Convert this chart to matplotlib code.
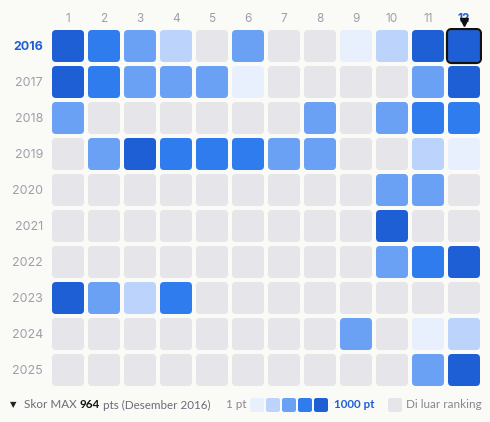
import matplotlib
matplotlib.use("Agg")
import matplotlib.pyplot as plt
from matplotlib.patches import FancyBboxPatch

# ---- data (level 0 = outside ranking, 1..5 = score bin from 1 pt to 1000 pt)
months = [str(m) for m in range(1, 13)]
years = ["2016", "2017", "2018", "2019", "2020", "2021", "2022", "2023", "2024", "2025"]
y2016 = [5, 4, 3, 2, 0, 3, 0, 0, 1, 2, 5, 5]
y2017 = [5, 4, 3, 3, 3, 1, 0, 0, 0, 0, 3, 5]
y2018 = [3, 0, 0, 0, 0, 0, 0, 3, 0, 3, 4, 4]
y2019 = [0, 3, 5, 4, 4, 4, 3, 3, 0, 0, 2, 1]
y2020 = [0, 0, 0, 0, 0, 0, 0, 0, 0, 3, 3, 0]
y2021 = [0, 0, 0, 0, 0, 0, 0, 0, 0, 5, 0, 0]
y2022 = [0, 0, 0, 0, 0, 0, 0, 0, 0, 3, 4, 5]
y2023 = [5, 3, 2, 4, 0, 0, 0, 0, 0, 0, 0, 0]
y2024 = [0, 0, 0, 0, 0, 0, 0, 0, 3, 0, 1, 2]
y2025 = [0, 0, 0, 0, 0, 0, 0, 0, 0, 0, 3, 5]
levels = [y2016, y2017, y2018, y2019, y2020, y2021, y2022, y2023, y2024, y2025]
max_year, max_month, max_score = "2016", "12", 964

BG = "#fafaf7"
GREY = "#e6e6ea"
PALETTE = [GREY, "#e8f0fe", "#bcd3fc", "#6aa1f4", "#2f7cee", "#1f5fd6"]
LABEL = "#a29dab"
BLUE = "#1f5fd6"

W, H = 490, 422
fig = plt.figure(figsize=(W / 100, H / 100), dpi=100, facecolor=BG)
ax = fig.add_axes([50 / W, 34 / H, 432 / W, 360 / H])
ax.set_facecolor(BG)
ax.set_xlim(0.5, 12.5)
ax.set_ylim(len(years) - 0.5, -0.5)
for s in ax.spines.values():
    s.set_visible(False)

cell = 32 / 36
r = 4 / 36
for yi, row in enumerate(levels):
    for mi, lv in enumerate(row):
        x = mi + 1
        ax.add_patch(FancyBboxPatch((x - cell / 2, yi - cell / 2), cell, cell,
                                    boxstyle=f"round,pad=0,rounding_size={r}",
                                    facecolor=PALETTE[lv], edgecolor="none"))

# highlight max
hx = months.index(max_month) + 1
hy = years.index(max_year)
hs = 34 / 36
ax.add_patch(FancyBboxPatch((hx - hs / 2, hy - hs / 2), hs, hs,
                            boxstyle=f"round,pad=0,rounding_size={5/36}",
                            facecolor="none", edgecolor="#111111", linewidth=1.6,
                            zorder=5))
ax.plot([hx], [hy - 0.66], marker="v", color="#111111", markersize=6,
        clip_on=False, zorder=6)

ax.xaxis.tick_top()
ax.set_xticks(range(1, 13))
ax.set_xticklabels(months, fontfamily="Inter", fontsize=8.5, color=LABEL)
ax.set_yticks(range(len(years)))
ax.set_yticklabels(years, fontfamily="Inter", fontsize=9, color=LABEL)
ax.tick_params(axis="x", length=0, pad=2.5)
ax.tick_params(axis="y", length=0, pad=5)
for t in ax.get_xticklabels():
    if t.get_text() == max_month:
        t.set_color(BLUE); t.set_fontweight("bold")
for t in ax.get_yticklabels():
    if t.get_text() == max_year:
        t.set_color(BLUE); t.set_fontweight("bold")

# ---- legend row (figure pixel coordinates)
def px(x, y):
    return x / W, 1 - y / H

ly = 405
FS = 8.4
fig.text(*px(13, ly), "▼", fontsize=6, color="#222222", ha="center", va="center",
         fontfamily="DejaVu Sans")
t1 = fig.text(*px(24, ly), "Skor MAX ", fontsize=FS, color="#6e6a78", va="center",
              fontfamily="Lato")
fig.canvas.draw()
rend = fig.canvas.get_renderer()
bb = t1.get_window_extent(rend)
t2 = fig.text(bb.x1 / W, 1 - ly / H, f"{max_score}", fontsize=FS, color="#111111",
              fontweight="bold", va="center", fontfamily="Lato")
bb2 = t2.get_window_extent(rend)
fig.text(bb2.x1 / W, 1 - ly / H, " pts (Desember 2016)", fontsize=FS, color="#6e6a78",
         va="center", fontfamily="Lato")

fig.text(*px(226, ly), "1 pt", fontsize=FS, color="#8a8594", va="center", fontfamily="Lato")
sw = 14
for i in range(5):
    x0 = 250 + i * 16
    fig.patches.append(FancyBboxPatch(px(x0, ly + sw / 2), sw / W, sw / H,
                                      boxstyle="round,pad=0,rounding_size=0.005",
                                      transform=fig.transFigure,
                                      facecolor=PALETTE[i + 1], edgecolor="none"))
fig.text(*px(334, ly), "1000 pt", fontsize=FS, color=BLUE, fontweight="bold",
         va="center", fontfamily="Lato")
fig.patches.append(FancyBboxPatch(px(388, ly + sw / 2), sw / W, sw / H,
                                  boxstyle="round,pad=0,rounding_size=0.005",
                                  transform=fig.transFigure,
                                  facecolor=GREY, edgecolor="none"))
fig.text(*px(406, ly), "Di luar ranking", fontsize=FS, color="#8a8594", va="center",
         fontfamily="Lato")

fig.savefig("out.png", dpi=100, facecolor=BG)
